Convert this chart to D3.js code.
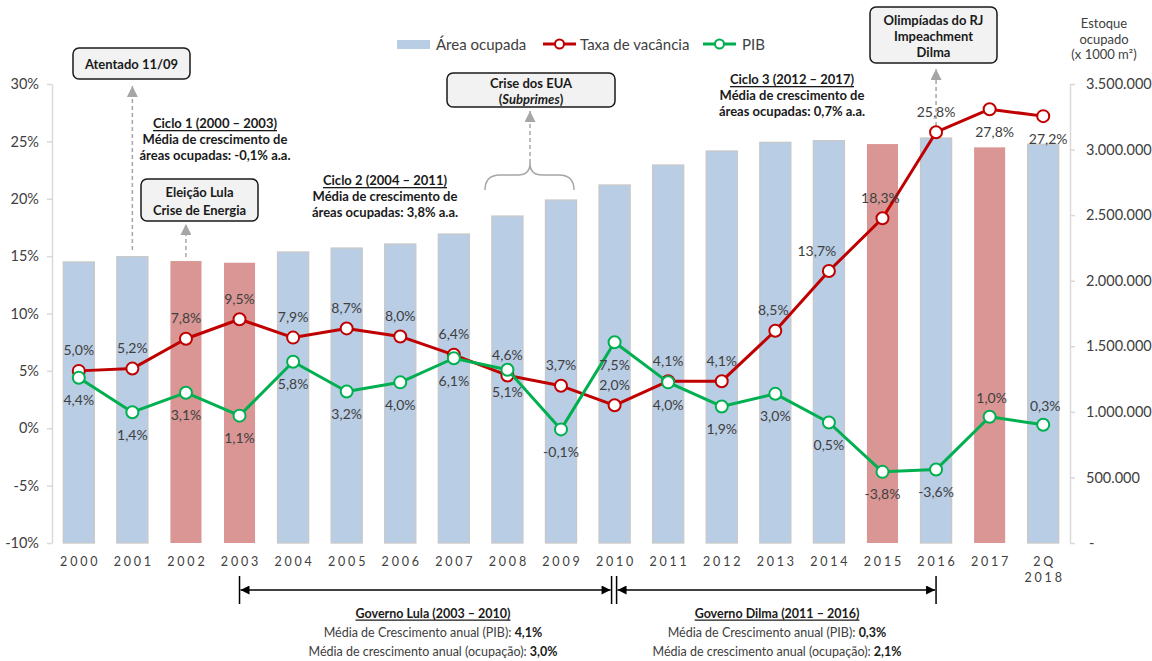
<!DOCTYPE html>
<html>
<head>
<meta charset="utf-8">
<script src="https://cdn.jsdelivr.net/npm/d3@7"></script>
<style>
  body { margin: 0; background: #fff; }
  svg { display: block; }
  text { font-family: Lato, "Open Sans", sans-serif; }
</style>
</head>
<body>
<svg id="chart" width="1152" height="661"></svg>
<script>
// ---- data ----
const years = ["2000", "2001", "2002", "2003", "2004", "2005", "2006", "2007", "2008", "2009",
               "2010", "2011", "2012", "2013", "2014", "2015", "2016", "2017", "2Q 2018"];
// occupied stock (x 1000 m²)
const areaOcupada = [2143000, 2183000, 2150000, 2137000, 2219000, 2249000, 2280000, 2356000, 2493000, 2615000,
                     2730000, 2882000, 2989000, 3055000, 3068000, 3042000, 3088000, 3017000, 3040000];
// vacancy rate (%)
const taxaVacancia = [5.0, 5.2, 7.8, 9.5, 7.9, 8.7, 8.0, 6.4, 4.6, 3.7,
                      2.0, 4.1, 4.1, 8.5, 13.7, 18.3, 25.8, 27.8, 27.2];
// GDP growth (%)
const pib = [4.4, 1.4, 3.1, 1.1, 5.8, 3.2, 4.0, 6.1, 5.1, -0.1,
             7.5, 4.0, 1.9, 3.0, 0.5, -3.8, -3.6, 1.0, 0.3];
// years with GDP contraction / weak economy (bars in red)
const crisisYears = ["2002", "2003", "2015", "2017"];
const leftTicks = [-10, -5, 0, 5, 10, 15, 20, 25, 30];
const rightTicks = [0, 500000, 1000000, 1500000, 2000000, 2500000, 3000000, 3500000];

// ---- setup ----
const svg = d3.select("#chart");
const C = {
  blue: "#b9cde5", redBar: "#d99694", red: "#c00000", green: "#00b050",
  text: "#404040", axis: "#d9d9d9", arrow: "#a6a6a6"
};

const x = d3.scaleBand().domain(years).range([52, 1070]).paddingInner(0.42).paddingOuter(0.21);
const yL = d3.scaleLinear().domain([-10, 30]).range([543, 84]);
const yR = d3.scaleLinear().domain([0, 3500000]).range([543, 84]);
const cx = d => x(d) + x.bandwidth() / 2;

const ptBR = d3.formatLocale({ decimal: ",", thousands: ".", grouping: [3], currency: ["", ""] });
const fmtThousands = ptBR.format(",");
const fmtPct = v => ptBR.format(".1f")(v).replace("−", "-") + "%";

const defs = svg.append("defs");
function arrowMarker(id, color, w, h) {
  defs.append("marker").attr("id", id)
    .attr("viewBox", "0 0 10 10").attr("refX", 10).attr("refY", 5)
    .attr("markerWidth", w).attr("markerHeight", h).attr("markerUnits", "userSpaceOnUse")
    .attr("orient", "auto-start-reverse")
    .append("path").attr("d", "M0,0 L10,5 L0,10 Z").attr("fill", color);
}
arrowMarker("arrGray", C.arrow, 11, 11);
arrowMarker("arrBlack", "#000", 11, 9);

// ---- axes ----
const axL = svg.append("g").attr("transform", "translate(52,0)")
  .call(d3.axisLeft(yL).tickValues(leftTicks).tickSize(5).tickSizeOuter(0).tickPadding(8)
    .tickFormat(d => d + "%"));
const axR = svg.append("g").attr("transform", "translate(1070,0)")
  .call(d3.axisRight(yR).tickValues(rightTicks).tickSize(5).tickSizeOuter(0).tickPadding(11)
    .tickFormat(d => d === 0 ? "-" : fmtThousands(d)));
[axL, axR].forEach(g => {
  g.select(".domain").attr("stroke", C.axis).attr("stroke-width", 1.5);
  g.selectAll(".tick line").attr("stroke", C.axis).attr("stroke-width", 1.5);
  g.selectAll(".tick text").attr("fill", C.text).style("font-size", "14.5px").style("font-family", "Lato, sans-serif");
});
axR.selectAll(".tick text").filter(d => d === 0).attr("dx", 3);

const axB = svg.append("g").attr("transform", "translate(0,552)")
  .call(d3.axisBottom(x).tickSize(0).tickPadding(0));
axB.select(".domain").remove();
axB.selectAll(".tick text").each(function (d) {
  const t = d3.select(this).text(null)
    .attr("fill", C.text).attr("y", 0).attr("dy", 0)
    .style("font-size", "12.5px").style("letter-spacing", "2.8px").style("font-family", "Lato, sans-serif");
  d.split(" ").forEach((part, i) => {
    t.append("tspan").attr("x", 1.4).attr("y", 13.5 + i * 16).text(part);
  });
});

// ---- bars ----
svg.append("g").selectAll("rect").data(years).join("rect")
  .attr("x", d => x(d)).attr("width", x.bandwidth())
  .attr("y", (d, i) => yR(areaOcupada[i]))
  .attr("height", (d, i) => yR(0) - yR(areaOcupada[i]))
  .attr("fill", d => crisisYears.includes(d) ? C.redBar : C.blue)
  .attr("stroke", d => crisisYears.includes(d) ? "none" : "#c8c8c8")
  .attr("stroke-width", 1.3);

// ---- annotation arrows (behind lines) ----
function dashedArrow(xp, yFrom, yTo) {
  svg.append("line").attr("x1", xp).attr("x2", xp).attr("y1", yFrom).attr("y2", yTo)
    .attr("stroke", C.arrow).attr("stroke-width", 1.5).attr("stroke-dasharray", "4,3")
    .attr("marker-end", "url(#arrGray)");
}
dashedArrow(cx("2001"), 250, 86);
dashedArrow(cx("2002"), 257, 224);
dashedArrow(530, 163, 111);
dashedArrow(cx("2016"), 126, 69);

// brace spanning 2008-2009
svg.append("path")
  .attr("d", "M485,190 Q485,175 500,175 L518,175 Q530,175 530,163 Q530,175 542,175 L559,175 Q574,175 574,190")
  .attr("fill", "none").attr("stroke", C.arrow).attr("stroke-width", 1.5);

// ---- lines ----
function series(values, color) {
  const pts = years.map((d, i) => [cx(d), yL(values[i])]);
  svg.append("path").attr("d", d3.line()(pts))
    .attr("fill", "none").attr("stroke", color).attr("stroke-width", 3).attr("stroke-linejoin", "round");
  svg.append("g").selectAll("circle").data(pts).join("circle")
    .attr("cx", p => p[0]).attr("cy", p => p[1]).attr("r", 6)
    .attr("fill", "#fff").attr("stroke", color).attr("stroke-width", 2);
}
series(taxaVacancia, C.red);
series(pib, C.green);

// ---- data labels ----
function labels(values, place) {
  svg.append("g").selectAll("text").data(years).join("text")
    .attr("x", (d, i) => cx(d) + place(i).dx)
    .attr("y", (d, i) => yL(values[i]) + place(i).dy)
    .attr("text-anchor", "middle").attr("dominant-baseline", "central")
    .attr("fill", C.text).style("font-size", "14px")
    .text((d, i) => fmtPct(values[i]));
}
labels(taxaVacancia, i => {
  if (i >= 17) return { dx: 5, dy: 22 };          // last two points: below
  if (i === 14) return { dx: -12, dy: -21 };
  if (i === 13 || i === 15) return { dx: -2, dy: -21 };
  return { dx: 0, dy: -21 };
});
labels(pib, i => (i >= 17 ? { dx: 2, dy: -19 } : { dx: 0, dy: 22 }));

// ---- legend ----
const lg = svg.append("g");
lg.append("rect").attr("x", 397).attr("y", 40).attr("width", 33).attr("height", 9).attr("fill", C.blue);
lg.append("text").attr("x", 436).attr("y", 44).attr("dominant-baseline", "central")
  .attr("fill", C.text).style("font-size", "15px").text("Área ocupada");
[[543, C.red, 580, "Taxa de vacância"], [703, C.green, 742, "PIB"]].forEach(([x0, col, tx, label]) => {
  lg.append("line").attr("x1", x0).attr("x2", x0 + 33).attr("y1", 44).attr("y2", 44)
    .attr("stroke", col).attr("stroke-width", 3);
  lg.append("circle").attr("cx", x0 + 16.5).attr("cy", 44).attr("r", 4.5)
    .attr("fill", "#fff").attr("stroke", col).attr("stroke-width", 2);
  lg.append("text").attr("x", tx).attr("y", 44).attr("dominant-baseline", "central")
    .attr("fill", C.text).style("font-size", "15px").text(label);
});

// right axis title
svg.append("g").selectAll("text").data(["Estoque", "ocupado", "(x 1000 m²)"]).join("text")
  .attr("x", 1104).attr("y", (d, i) => 23 + i * 15.5)
  .attr("text-anchor", "middle").attr("dominant-baseline", "central")
  .attr("fill", C.text).style("font-size", "13px").text(d => d);

// ---- event boxes ----
function eventBox(x0, y0, w, h, lines, lineY) {
  svg.append("rect").attr("x", x0).attr("y", y0).attr("width", w).attr("height", h)
    .attr("rx", 6).attr("fill", "#f2f2f2").attr("stroke", "#1a1a1a").attr("stroke-width", 1.5);
  lines.forEach((ln, i) => {
    const t = svg.append("text").attr("x", x0 + w / 2).attr("y", lineY[i])
      .attr("text-anchor", "middle").attr("dominant-baseline", "central")
      .attr("fill", "#1a1a1a").style("font-size", "13px").style("font-weight", "bold");
    ln.forEach(seg => t.append("tspan").style("font-style", seg.i ? "italic" : null).text(seg.t));
  });
}
eventBox(73, 48, 117, 31, [[{ t: "Atentado 11/09" }]], [63.5]);
eventBox(141, 179, 117, 42, [[{ t: "Eleição Lula" }], [{ t: "Crise de Energia" }]], [192, 210]);
eventBox(447, 73, 168, 34, [[{ t: "Crise dos EUA" }], [{ t: "(" }, { t: "Subprimes", i: true }, { t: ")" }]], [82.5, 99]);
eventBox(870, 7, 127, 56, [[{ t: "Olimpíadas do RJ" }], [{ t: "Impeachment" }], [{ t: "Dilma" }]], [20, 35.5, 51.5]);

// ---- cycle notes ----
function note(xc, y0, title, rest) {
  svg.append("text").attr("x", xc).attr("y", y0).attr("text-anchor", "middle").attr("dominant-baseline", "central")
    .attr("fill", "#1a1a1a").style("font-size", "13px").style("font-weight", "bold")
    .style("text-decoration", "underline").text(title);
  rest.forEach((r, i) => svg.append("text").attr("x", xc).attr("y", y0 + 16 * (i + 1))
    .attr("text-anchor", "middle").attr("dominant-baseline", "central")
    .attr("fill", "#1a1a1a").style("font-size", "13px").style("font-weight", "bold").text(r));
}
note(215, 123, "Ciclo 1 (2000 – 2003)", ["Média de crescimento de", "áreas ocupadas: -0,1% a.a."]);
note(385, 180, "Ciclo 2 (2004 – 2011)", ["Média de crescimento de", "áreas ocupadas: 3,8% a.a."]);
note(792, 79, "Ciclo 3 (2012 – 2017)", ["Média de crescimento de", "áreas ocupadas: 0,7% a.a."]);

// ---- government periods ----
const yArr = 590;
const xL0 = cx("2003"), xMid = cx("2010"), xD1 = cx("2016");
[[xL0], [xMid - 3], [xMid + 2], [xD1]].forEach(([xv]) =>
  svg.append("line").attr("x1", xv).attr("x2", xv).attr("y1", 576).attr("y2", 604)
    .attr("stroke", "#000").attr("stroke-width", 1.5));
svg.append("line").attr("x1", xL0 + 1).attr("x2", xMid - 4).attr("y1", yArr).attr("y2", yArr)
  .attr("stroke", "#000").attr("stroke-width", 1.5)
  .attr("marker-start", "url(#arrBlack)").attr("marker-end", "url(#arrBlack)");
svg.append("line").attr("x1", xMid + 3).attr("x2", xD1 - 1).attr("y1", yArr).attr("y2", yArr)
  .attr("stroke", "#000").attr("stroke-width", 1.5)
  .attr("marker-start", "url(#arrBlack)").attr("marker-end", "url(#arrBlack)");

function govNote(xc, title, pibVal, ocupVal) {
  svg.append("text").attr("x", xc).attr("y", 613).attr("text-anchor", "middle").attr("dominant-baseline", "central")
    .attr("fill", "#1a1a1a").style("font-size", "12.5px").style("font-weight", "bold")
    .style("text-decoration", "underline").text(title);
  [["Média de Crescimento anual (PIB): ", pibVal], ["Média de crescimento anual (ocupação): ", ocupVal]]
    .forEach(([lbl, v], i) => {
      const t = svg.append("text").attr("x", xc).attr("y", 632 + 19 * i).attr("text-anchor", "middle")
        .attr("dominant-baseline", "central").attr("fill", C.text).style("font-size", "12.5px");
      t.append("tspan").text(lbl);
      t.append("tspan").style("font-weight", "bold").attr("fill", "#1a1a1a").text(v);
    });
}
govNote(433, "Governo Lula (2003 – 2010)", "4,1%", "3,0%");
govNote(777, "Governo Dilma (2011 – 2016)", "0,3%", "2,1%");
</script>
</body>
</html>
